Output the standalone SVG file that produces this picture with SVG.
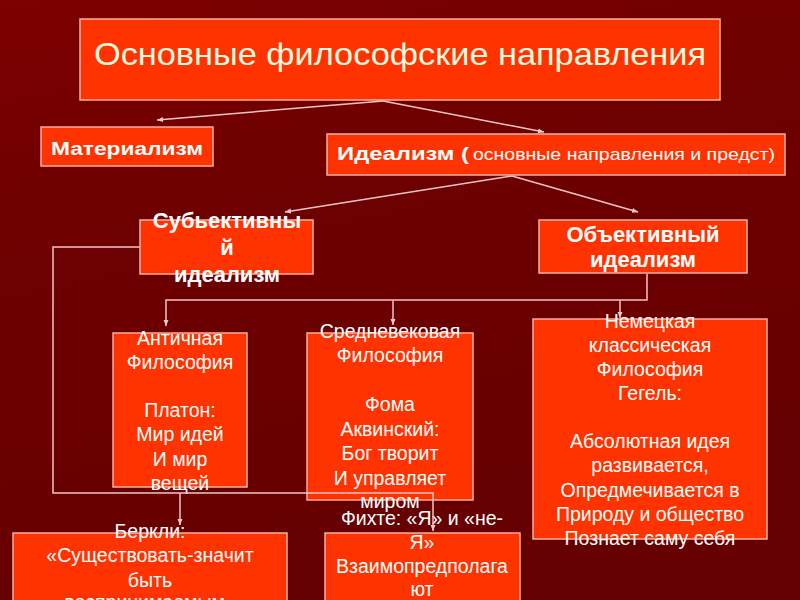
<svg xmlns="http://www.w3.org/2000/svg" width="800" height="600" viewBox="0 0 800 600">
<defs>
<linearGradient id="bg" x1="0" y1="0" x2="0.3" y2="1">
<stop offset="0" stop-color="#7e0000"/>
<stop offset="0.35" stop-color="#6e0000"/>
<stop offset="1" stop-color="#660000"/>
</linearGradient>
<marker id="arr" markerUnits="userSpaceOnUse" markerWidth="7" markerHeight="6" refX="6" refY="3" orient="auto">
<path d="M0,0.5 L6,3 L0,5.5 z" fill="#f4caca"/>
</marker>
<style>
.box{fill:#ff3300;stroke:#f6b0a4;stroke-width:1.5}
.t{font-family:"Liberation Sans",Arial,sans-serif;fill:#ffffff;text-anchor:middle}
.b{font-weight:bold}
.n{font-size:19.5px}
.conn{fill:none;stroke:#f2c4c4;stroke-width:1.5}
</style>
</defs>
<rect width="800" height="600" fill="url(#bg)"/>

<g id="title">
<rect class="box" x="80" y="19" width="640" height="81"/>
<text class="t" x="400" y="65" font-size="32" style="fill:#fffbe0" textLength="612" lengthAdjust="spacingAndGlyphs">Основные философские направления</text>
</g>

<g id="materialism">
<rect class="box" x="41" y="127" width="172" height="39"/>
<text class="t b" x="127" y="155" font-size="18" textLength="152" lengthAdjust="spacingAndGlyphs">Материализм</text>
</g>

<g id="idealism">
<rect class="box" x="327" y="134" width="458" height="41"/>
<text class="t" x="337" y="160" style="text-anchor:start"><tspan class="b" font-size="18" textLength="132" lengthAdjust="spacingAndGlyphs">Идеализм (</tspan><tspan x="473" font-size="17" textLength="302" lengthAdjust="spacingAndGlyphs">основные направления и предст)</tspan></text>
</g>

<g id="subjective">
<rect class="box" x="140" y="220" width="173" height="54"/>
<text class="t b" font-size="22"><tspan x="227" y="228">Субьективны</tspan><tspan x="227" y="255">й</tspan><tspan x="227" y="282">идеализм</tspan></text>
</g>

<g id="objective">
<rect class="box" x="539" y="220" width="208" height="53"/>
<text class="t b" font-size="22"><tspan x="643" y="242">Объективный</tspan><tspan x="643" y="267">идеализм</tspan></text>
</g>

<g id="antique">
<rect class="box" x="113" y="333" width="134" height="154"/>
<text class="t n"><tspan x="180" y="345">Античная</tspan><tspan x="180" y="369">Философия</tspan><tspan x="180" y="417">Платон:</tspan><tspan x="180" y="441">Мир идей</tspan><tspan x="180" y="466">И мир</tspan><tspan x="180" y="490">вещей</tspan></text>
</g>

<g id="medieval">
<rect class="box" x="307" y="333" width="166" height="167"/>
<text class="t n"><tspan x="390" y="338">Средневековая</tspan><tspan x="390" y="362">Философия</tspan><tspan x="390" y="411">Фома</tspan><tspan x="390" y="436">Аквинский:</tspan><tspan x="390" y="460">Бог творит</tspan><tspan x="390" y="485">И управляет</tspan><tspan x="390" y="508">миром</tspan></text>
</g>

<g id="german">
<rect class="box" x="533" y="319" width="234" height="220"/>
<text class="t n"><tspan x="650" y="328">Немецкая</tspan><tspan x="650" y="352">классическая</tspan><tspan x="650" y="376">Философия</tspan><tspan x="650" y="400">Гегель:</tspan><tspan x="650" y="448">Абсолютная идея</tspan><tspan x="650" y="472">развивается,</tspan><tspan x="650" y="497">Опредмечивается в</tspan><tspan x="650" y="521">Природу и общество</tspan><tspan x="650" y="545">Познает саму себя</tspan></text>
</g>

<g id="berkeley">
<rect class="box" x="13" y="533" width="274" height="80"/>
<text class="t n"><tspan x="150" y="538">Беркли:</tspan><tspan x="150" y="562">«Существовать-значит</tspan><tspan x="150" y="587">быть</tspan><tspan x="150" y="609">воспринимаемым»</tspan></text>
</g>

<g id="fichte">
<rect class="box" x="325" y="533" width="195" height="80"/>
<text class="t n"><tspan x="422" y="525">Фихте: «Я» и «не-</tspan><tspan x="422" y="549">Я»</tspan><tspan x="422" y="573">Взаимопредполага</tspan><tspan x="422" y="596">ют</tspan></text>
</g>

<g id="connectors">
<path class="conn" d="M383,101 L157,120" marker-end="url(#arr)"/>
<path class="conn" d="M383,101 L544,132" marker-end="url(#arr)"/>
<path class="conn" d="M512,176 L285,212" marker-end="url(#arr)"/>
<path class="conn" d="M512,176 L638,212" marker-end="url(#arr)"/>
<path class="conn" d="M647,274 V300 H166 V326" marker-end="url(#arr)"/>
<path class="conn" d="M393,300 V325" marker-end="url(#arr)"/>
<path class="conn" d="M620,300 V318" marker-end="url(#arr)"/>
<path class="conn" d="M140,247 H53 V493 H433 V531" marker-end="url(#arr)"/>
<path class="conn" d="M180,493 V525" marker-end="url(#arr)"/>
</g>
</svg>
